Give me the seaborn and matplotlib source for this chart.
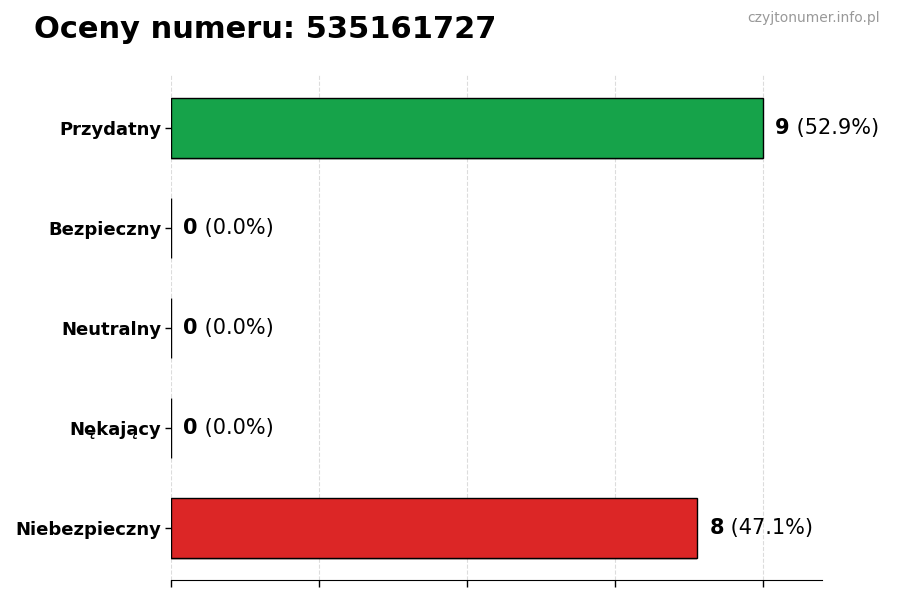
import matplotlib
matplotlib.use('Agg')
import matplotlib.pyplot as plt
import matplotlib.patheffects as pe
import seaborn as sns
import pandas as pd

categories = ['Przydatny', 'Bezpieczny', 'Neutralny', 'Nękający', 'Niebezpieczny']
counts = [9, 0, 0, 0, 8]
colors = ['#16a34a', '#2563eb', '#9ca3af', '#f59e0b', '#dc2626']
phone = '535161727'

sns.set_style('white')
plt.rcParams['font.family'] = ['DejaVu Sans']
plt.rcParams['text.color'] = 'black'
plt.rcParams['axes.labelcolor'] = 'black'
plt.rcParams['xtick.color'] = 'black'
plt.rcParams['ytick.color'] = 'black'

df = pd.DataFrame({'Kategoria': categories, 'Liczba': counts})
total = sum(counts)

fig = plt.figure(figsize=(9, 6), dpi=100)
ax = fig.add_axes([0.19, 0.0333, 0.723, 0.842])

sns.barplot(data=df, y='Kategoria', x='Liczba', hue='Kategoria', palette=colors,
            order=categories, orient='h', width=0.6, edgecolor='black', linewidth=1,
            saturation=1, legend=False, ax=ax)

for patch in ax.patches:
    patch.set_path_effects([pe.SimplePatchShadow(offset=(0, -1.5), alpha=0.25), pe.Normal()])

max_val = max(counts)
ax.set_xlim(0, max_val * 1.1)
ax.set_ylim(4.52, -0.53)
ax.set_xticks([max_val * i / 4 for i in range(5)])
ax.set_xticklabels([])
ax.grid(axis='x', linestyle='--', alpha=0.5, color='#bbbbbb')
ax.set_axisbelow(True)
ax.tick_params(axis='x', bottom=True, length=5, width=1, color='black')
ax.tick_params(axis='y', left=True, length=4, width=1, color='black', pad=3)
ax.set_xlabel('')
ax.set_ylabel('')
for lbl in ax.get_yticklabels():
    lbl.set_fontweight('bold')
    lbl.set_fontsize(13)
    lbl.set_color('black')

for s in ['top', 'right', 'left']:
    ax.spines[s].set_visible(False)
ax.spines['bottom'].set_color('black')

for i, v in enumerate(counts):
    pct = v / total * 100 if total else 0
    t = ax.annotate(str(v), xy=(v, i), xytext=(9, 0), textcoords='offset points',
                    va='center', ha='left', fontsize=15, fontweight='bold', color='black')
    ax.annotate(f' ({pct:.1f}%)', xy=(1, 0), xycoords=t, va='bottom', ha='left',
                fontsize=15, color='black')

fig.text(0.038, 0.95, f'Oceny numeru: {phone}', fontsize=22, fontweight='bold',
         va='center', color='black')
fig.text(0.978, 0.97, 'czyjtonumer.info.pl', fontsize=10, color='#999999', ha='right', va='center')

plt.savefig('out.png', dpi=100)
plt.close()
